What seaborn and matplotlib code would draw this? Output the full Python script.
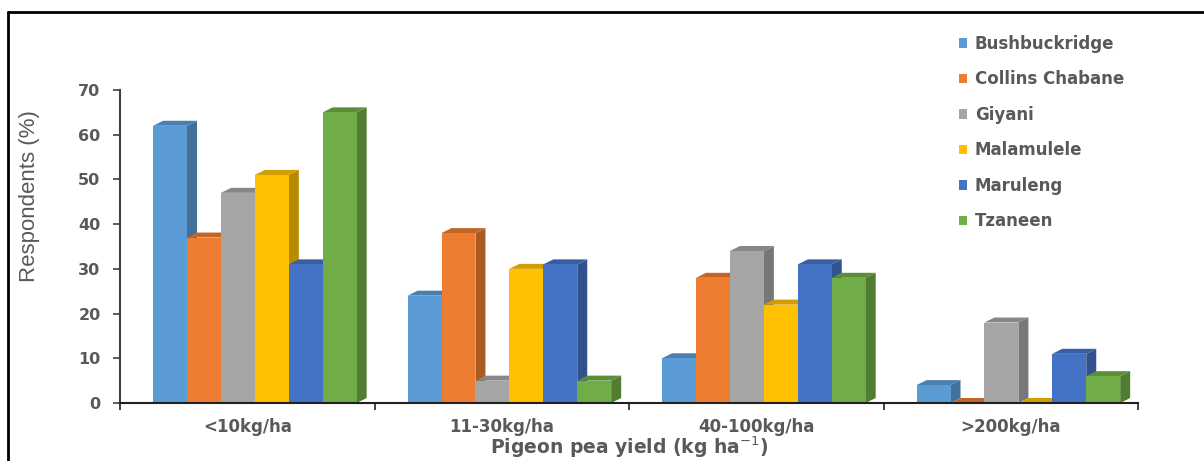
import matplotlib
matplotlib.use("Agg")
import matplotlib.pyplot as plt
import seaborn as sns
import pandas as pd
import numpy as np
from matplotlib.patches import Polygon
from matplotlib.lines import Line2D
import matplotlib.colors as mcolors

categories = ["<10kg/ha", "11-30kg/ha", "40-100kg/ha", ">200kg/ha"]
districts = ["Bushbuckridge", "Collins Chabane", "Giyani", "Malamulele", "Maruleng", "Tzaneen"]
bushbuckridge = [62, 24, 10, 4]
collins_chabane = [37, 38, 28, 0]
giyani = [47, 5, 34, 18]
malamulele = [51, 30, 22, 0]
maruleng = [31, 31, 31, 11]
tzaneen = [65, 5, 28, 6]
yticks = [0, 10, 20, 30, 40, 50, 60, 70]

series = [bushbuckridge, collins_chabane, giyani, malamulele, maruleng, tzaneen]
colors = ["#5B9BD5", "#ED7D31", "#A5A5A5", "#FFC000", "#4472C4", "#70AD47"]

rows = []
for d, vals in zip(districts, series):
    for c, v in zip(categories, vals):
        rows.append({"category": c, "district": d, "value": v})
df = pd.DataFrame(rows)

sns.set_theme(style="white")
plt.rcParams['font.family'] = ['DejaVu Sans']

fig = plt.figure(figsize=(12.04, 4.61), dpi=100)
ax = fig.add_axes([120/1204, 1 - 403/461, (1138-120)/1204, (403-90)/461])

sns.barplot(data=df, x="category", y="value", hue="district", order=categories,
            hue_order=districts, palette=colors, width=0.8, saturation=1,
            edgecolor="none", linewidth=0, ax=ax, legend=True, errorbar=None)

def darker(c, f):
    r, g, b = mcolors.to_rgb(c)
    return (r * f, g * f, b * f)

# 3D-like depth (pixel offsets converted to data units)
dx = 10 / 254.5
dy = 5 / ((403 - 90) / 70)
shift = 0.03

for k, container in enumerate(ax.containers):
    col = colors[k]
    for bar in container:
        bar.set_x(bar.get_x() + shift)
        x0 = bar.get_x()
        x1 = x0 + bar.get_width()
        h = bar.get_height()
        z = 2 + k * 0.1
        bar.set_zorder(z)
        bar.set_clip_on(False)
        side = Polygon([(x1, 0), (x1 + dx, dy), (x1 + dx, h + dy), (x1, h)],
                       closed=True, facecolor=darker(col, 0.72), edgecolor="none",
                       zorder=z - 0.05, clip_on=False)
        top = Polygon([(x0, h), (x0 + dx, h + dy), (x1 + dx, h + dy), (x1, h)],
                      closed=True, facecolor=darker(col, 0.82), edgecolor="none",
                      zorder=z - 0.04, clip_on=False)
        ax.add_patch(side)
        ax.add_patch(top)

ax.set_xlim(-0.5, 3.5)
ax.set_ylim(0, 70)
ax.set_yticks(yticks)
ax.set_yticklabels([str(t) for t in yticks])

txtcol = "#595959"
ax.tick_params(axis="y", which="major", direction="out", length=5, width=1.2,
               color="#404040", labelsize=11.5, labelcolor=txtcol, pad=9, left=True)
for lab in ax.get_yticklabels():
    lab.set_fontweight("bold")
ax.tick_params(axis="x", which="major", length=0, labelsize=12, labelcolor=txtcol, pad=11)
for lab in ax.get_xticklabels():
    lab.set_fontweight("bold")
ax.set_xticks([-0.5, 0.5, 1.5, 2.5, 3.5], minor=True)
ax.tick_params(axis="x", which="minor", direction="out", length=5, width=1.2,
               color="#202020", bottom=True)

for s in ["top", "right"]:
    ax.spines[s].set_visible(False)
ax.spines["left"].set_color("#404040")
ax.spines["left"].set_linewidth(1.5)
ax.spines["bottom"].set_color("#202020")
ax.spines["bottom"].set_linewidth(1.5)

ax.set_xlabel("Pigeon pea yield (kg ha$^{-1}$)", fontsize=13.5, fontweight="bold",
              color=txtcol, labelpad=-1)
ax.set_ylabel("Respondents (%)", fontsize=16, color=txtcol,
              family=["Liberation Sans Narrow", "Liberation Sans", "DejaVu Sans"])
ax.yaxis.set_label_coords((40 - 120) / 1018, (403 - 196) / 313)

ax.get_legend().remove()
handles = [plt.Rectangle((0, 0), 1, 1, facecolor=c, edgecolor="none") for c in colors]
leg = fig.legend(handles, districts, loc="upper left", bbox_to_anchor=(944/1204, 1 - 20/461),
                 frameon=False, handlelength=0.5, handleheight=0.5, handletextpad=0.45,
                 labelspacing=1.05, prop={"size": 12, "weight": "bold"}, labelcolor=txtcol)

# outer frame
fig.add_artist(Line2D([8/1204, 8/1204], [0, 1 - 12/461], transform=fig.transFigure,
                      color="black", linewidth=2))
fig.add_artist(Line2D([8/1204, 1], [1 - 12/461, 1 - 12/461], transform=fig.transFigure,
                      color="black", linewidth=2))

fig.savefig("out.png", dpi=100)
